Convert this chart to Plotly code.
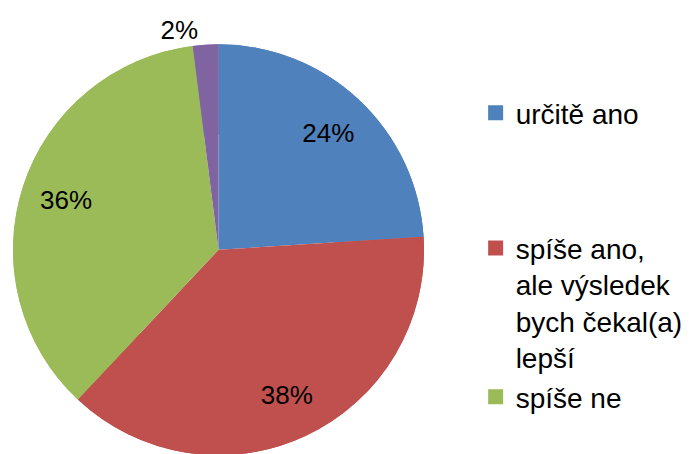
import plotly.graph_objects as go

# data
labels = ["určitě ano", "spíše ano,<br>ale výsledek<br>bych čekal(a)<br>lepší", "spíše ne", "určitě ne"]
values = [24, 38, 36, 2]
colors = ["#4F81BD", "#C0504D", "#9BBB59", "#8064A2"]
legend_groups = ["g1", "g2", "g2"]  # only three entries fit in the original legend

W, H = 692, 454
dom = dict(x=[0, 414 / W], y=[0, 420 / H])

fig = go.Figure()

# full pie underneath (no text)
fig.add_trace(go.Pie(
    labels=labels, values=values, sort=False, direction="clockwise", rotation=0,
    marker=dict(colors=colors, line=dict(width=0)),
    textinfo="none", domain=dom, showlegend=False, hoverinfo="skip",
))

# ring on top carries the percent labels further out, like the original
fig.add_trace(go.Pie(
    labels=labels, values=values, sort=False, direction="clockwise", rotation=0,
    marker=dict(colors=colors, line=dict(width=0)),
    texttemplate="%{percent:.0%}",
    textposition=["inside", "inside", "inside", "outside"],
    insidetextorientation="horizontal",
    textfont=dict(family="Liberation Sans, Arial", size=26, color="black"),
    domain=dom, showlegend=False, hole=0.56,
))

# legend entries as square markers
for lab, col, grp in zip(labels[:3], colors[:3], legend_groups):
    fig.add_trace(go.Scatter(
        x=[None], y=[None], mode="markers", name=lab, legendgroup=grp,
        marker=dict(symbol="square", size=15, color=col),
    ))

fig.update_layout(
    width=W, height=H, margin=dict(l=0, r=0, t=0, b=0),
    paper_bgcolor="white", plot_bgcolor="white",
    xaxis=dict(visible=False), yaxis=dict(visible=False),
    legend=dict(
        x=466 / W, xanchor="left", y=(H - 80) / H, yanchor="top",
        font=dict(family="Liberation Sans, Arial", size=28, color="black"),
        tracegroupgap=96, itemwidth=30, valign="top", bgcolor="rgba(0,0,0,0)",
    ),
)

fig.write_html("out.html")
